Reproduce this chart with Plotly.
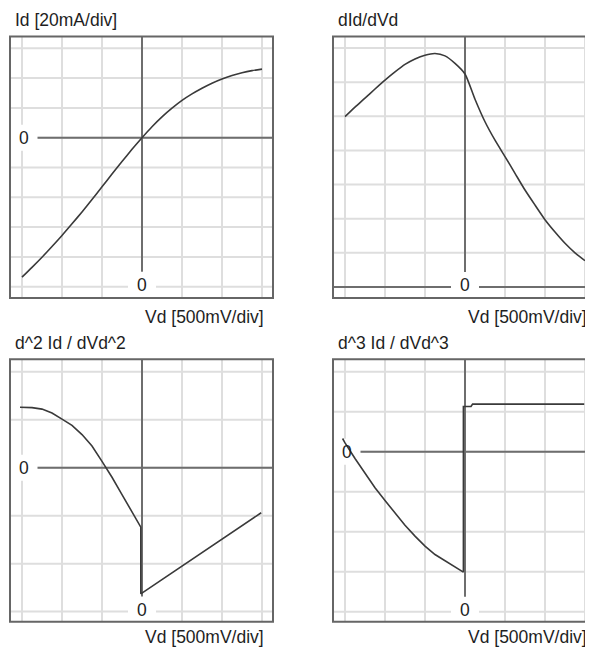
import plotly.graph_objects as go

# page offset: the browser body adds an 8 px margin around the figure
OFF = 8
W, H = 593 - OFF, 648 - OFF

# ---------------- data (units = divisions) ----------------
vd_grid = [-3.0, -2.75, -2.5, -2.25, -2.0, -1.75, -1.5, -1.25, -1.0, -0.75, -0.5, -0.25,
           0.0, 0.25, 0.5, 0.75, 1.0, 1.25, 1.5, 1.75, 2.0, 2.25, 2.5, 2.75, 3.0]

id_vals = [-4.68, -4.35, -4.01, -3.65, -3.28, -2.89, -2.49, -2.07, -1.65, -1.22, -0.80, -0.39,
           0.0, 0.37, 0.70, 0.99, 1.25, 1.47, 1.66, 1.83, 1.97, 2.09, 2.18, 2.25, 2.30]

did_vals = [4.99, 5.27, 5.53, 5.80, 6.06, 6.30, 6.52, 6.68, 6.79, 6.84, 6.77, 6.55,
            6.24, 5.50, 4.84, 4.30, 3.82, 3.33, 2.84, 2.40, 1.97, 1.61, 1.28, 1.00, 0.77]

vd_d2 = [-3.05, -2.75, -2.5, -2.25, -2.0, -1.75, -1.5, -1.25, -1.0, -0.75, -0.5, -0.25,
         -0.03, -0.03, 2.98]
d2_vals = [1.26, 1.25, 1.22, 1.14, 1.01, 0.88, 0.69, 0.45, 0.13, -0.20, -0.56, -0.91,
           -1.24, -2.63, -0.94]

vd_d3 = [-3.06, -3.0, -2.75, -2.5, -2.25, -2.0, -1.75, -1.5, -1.25, -1.0, -0.75, -0.5,
         -0.25, -0.04, -0.04, 0.15, 0.19, 2.98]
d3_vals = [0.33, 0.22, -0.17, -0.55, -0.90, -1.22, -1.52, -1.84, -2.11, -2.36, -2.57, -2.73,
           -2.88, -3.01, 1.13, 1.13, 1.19, 1.19]

x_grid = [-3, -2, -1, 0, 1, 2, 3]
y_grid_1 = [-5, -4, -3, -2, -1, 0, 1, 2, 3]
y_grid_2 = [0, 1, 2, 3, 4, 5, 6, 7]
y_grid_3 = [-3, -2, -1, 0, 1, 2]
y_grid_4 = [-4, -3, -2, -1, 0, 1, 2]

titles = ["Id [20mA/div]", "dId/dVd", "d^2 Id / dVd^2", "d^3 Id / dVd^3"]
x_label = "Vd [500mV/div]"
zero_label = "0"

# ---------------- style ----------------
FONT = "Liberation Sans, Arial, sans-serif"
FS = 17.5
GRID_C = "#dedede"
AXIS_C = "#6e6e6e"
CURVE_C = "#3a3a3a"
BORDER_C = "#666666"
TEXT_C = "#1e1e1e"

panels = [
    dict(xs=vd_grid, ys=id_vals, title=titles[0], box=(10, 36.5, 273, 298), right=273,
         xr=[-3.3, 3.275], yr=[-5.379, 3.396], yg=y_grid_1, left_zero=True, shape="spline", lab=18.5),
    dict(xs=vd_grid, ys=did_vals, title=titles[1], box=(333, 36.5, 605, 298), right=593,
         xr=[-3.3, 3.2], yr=[-0.322, 7.337], yg=y_grid_2, left_zero=False, shape="spline", lab=18.5),
    dict(xs=vd_d2, ys=d2_vals, title=titles[2], box=(10, 359.3, 273, 621.7), right=273,
         xr=[-3.3, 3.275], yr=[-3.21, 2.258], yg=y_grid_3, left_zero=True, shape="linear", lab=15.5),
    dict(xs=vd_d3, ys=d3_vals, title=titles[3], box=(333, 359.3, 605, 621.7), right=593,
         xr=[-3.3, 3.2], yr=[-4.25, 2.31], yg=y_grid_4, left_zero=True, shape="linear", lab=15.5),
]


def px(xp):
    return (xp - OFF) / W


def py(yp):
    return (H - (yp - OFF)) / H


fig = go.Figure()
layout = dict(width=W, height=H, margin=dict(l=0, r=0, t=0, b=0),
              paper_bgcolor="white", plot_bgcolor="white", showlegend=False)
grid_shapes, axis_shapes, white_shapes, border_shapes = [], [], [], []
annotations = []

for i, p in enumerate(panels):
    n = "" if i == 0 else str(i + 1)
    xa, ya = "x" + n, "y" + n
    l, t, r, b = p["box"]
    layout["xaxis" + n] = dict(domain=[px(l), min(1.0, px(p["right"]))], range=p["xr"], visible=False,
                               fixedrange=True, anchor=ya)
    layout["yaxis" + n] = dict(domain=[py(b), py(t)], range=p["yr"], visible=False,
                               fixedrange=True, anchor=xa)

    # grid
    for gx in x_grid:
        grid_shapes.append(dict(type="line", xref=xa, yref=ya + " domain", x0=gx, x1=gx, y0=0, y1=1,
                                line=dict(color=GRID_C, width=2), layer="below"))
    for gy in p["yg"]:
        grid_shapes.append(dict(type="line", xref=xa + " domain", yref=ya, x0=0, x1=1, y0=gy, y1=gy,
                                line=dict(color=GRID_C, width=2), layer="below"))
    # zero axes
    axis_shapes.append(dict(type="line", xref=xa, yref=ya + " domain", x0=0, x1=0, y0=0, y1=1,
                            line=dict(color=AXIS_C, width=2), layer="below"))
    axis_shapes.append(dict(type="line", xref=xa + " domain", yref=ya, x0=0, x1=1, y0=0, y1=0,
                            line=dict(color=AXIS_C, width=2), layer="below"))

    # zero labels with white gaps
    labels = [(0, p["yg"][0], 0, 2)]
    if p["left_zero"]:
        labels.append((x_grid[0], 0, 1.5, 0))
    for lx, ly, xs, ys in labels:
        white_shapes.append(dict(type="rect", xref=xa, yref=ya, xsizemode="pixel", ysizemode="pixel",
                                 xanchor=lx, yanchor=ly, x0=-14 + xs, x1=14 + xs, y0=-13 + ys, y1=13 + ys,
                                 fillcolor="white", line=dict(width=0), layer="below"))
        annotations.append(dict(text=zero_label, xref=xa, yref=ya, x=lx, y=ly, xshift=xs, yshift=ys,
                                showarrow=False, xanchor="center", yanchor="middle",
                                font=dict(family=FONT, size=FS, color=TEXT_C)))

    # border
    border_shapes.append(dict(type="rect", xref="paper", yref="paper", x0=px(l), x1=px(r),
                              y0=py(b), y1=py(t), line=dict(color=BORDER_C, width=2),
                              fillcolor="rgba(0,0,0,0)", layer="above"))

    # titles
    annotations.append(dict(text=p["title"], xref="paper", yref="paper", x=px(l + 3), y=py(t - 16.5),
                            showarrow=False, xanchor="left", yanchor="middle",
                            font=dict(family=FONT, size=FS, color=TEXT_C)))
    annotations.append(dict(text=x_label, xref=xa, yref="paper", x=0, xshift=1, y=py(b + p["lab"]),
                            showarrow=False, xanchor="left", yanchor="middle",
                            font=dict(family=FONT, size=FS, color=TEXT_C)))

    fig.add_trace(go.Scatter(x=p["xs"], y=p["ys"], xaxis=xa, yaxis=ya, mode="lines",
                             line=dict(color=CURVE_C, width=1.6, shape=p["shape"], smoothing=0.6),
                             hoverinfo="skip"))

layout["shapes"] = grid_shapes + axis_shapes + white_shapes + border_shapes
layout["annotations"] = annotations
fig.update_layout(**layout)
fig.write_html("out.html")
